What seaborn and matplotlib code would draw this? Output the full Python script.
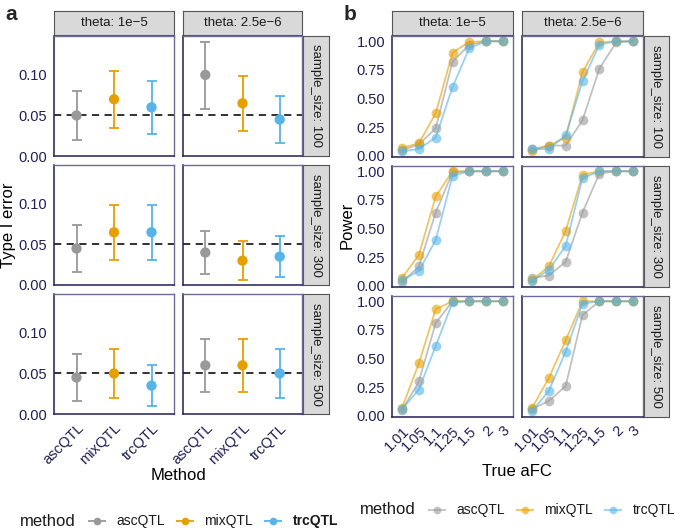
import numpy as np
import pandas as pd
import matplotlib
matplotlib.use("Agg")
import matplotlib.pyplot as plt
import seaborn as sns

sns.set_theme(style="white")
plt.rcParams['font.family'] = ['Liberation Sans', 'DejaVu Sans']

# ---------------- data ----------------
methods = ["ascQTL", "mixQTL", "trcQTL"]
thetas = ["theta: 1e\u22125", "theta: 2.5e\u22126"]
sample_sizes = ["sample_size: 100", "sample_size: 300", "sample_size: 500"]
afc_labels = ["1.01", "1.05", "1.1", "1.25", "1.5", "2", "3"]
colors = {"ascQTL": "#999999", "mixQTL": "#E69F00", "trcQTL": "#56B4E9"}

# Type I error: (sample_size idx, theta idx) -> values per method
t1_est = {
    (0, 0): [0.050, 0.070, 0.060], (0, 1): [0.100, 0.065, 0.045],
    (1, 0): [0.045, 0.065, 0.065], (1, 1): [0.040, 0.030, 0.035],
    (2, 0): [0.045, 0.050, 0.035], (2, 1): [0.060, 0.060, 0.050],
}
t1_low = {
    (0, 0): [0.020, 0.035, 0.027], (0, 1): [0.058, 0.031, 0.016],
    (1, 0): [0.016, 0.031, 0.031], (1, 1): [0.013, 0.006, 0.010],
    (2, 0): [0.016, 0.020, 0.010], (2, 1): [0.027, 0.027, 0.020],
}
t1_high = {
    (0, 0): [0.080, 0.105, 0.093], (0, 1): [0.140, 0.099, 0.074],
    (1, 0): [0.074, 0.099, 0.099], (1, 1): [0.067, 0.054, 0.060],
    (2, 0): [0.074, 0.080, 0.060], (2, 1): [0.093, 0.093, 0.080],
}

# Power: (sample_size idx, theta idx) -> {method: values over aFC}
power = {
    (0, 0): {"ascQTL": [0.05, 0.10, 0.24, 0.82, 0.97, 1.00, 1.00],
             "mixQTL": [0.07, 0.11, 0.37, 0.90, 0.995, 1.00, 1.00],
             "trcQTL": [0.04, 0.06, 0.16, 0.60, 0.94, 1.00, 1.00]},
    (0, 1): {"ascQTL": [0.06, 0.09, 0.09, 0.31, 0.76, 0.99, 1.00],
             "mixQTL": [0.04, 0.09, 0.16, 0.73, 0.99, 1.00, 1.00],
             "trcQTL": [0.06, 0.06, 0.18, 0.65, 0.97, 1.00, 1.00]},
    (1, 0): {"ascQTL": [0.03, 0.17, 0.64, 0.99, 1.00, 1.00, 1.00],
             "mixQTL": [0.07, 0.27, 0.78, 1.00, 1.00, 1.00, 1.00],
             "trcQTL": [0.05, 0.13, 0.40, 0.96, 1.00, 1.00, 1.00]},
    (1, 1): {"ascQTL": [0.07, 0.09, 0.21, 0.64, 0.98, 1.00, 1.00],
             "mixQTL": [0.05, 0.17, 0.48, 0.97, 1.00, 1.00, 1.00],
             "trcQTL": [0.04, 0.14, 0.35, 0.94, 1.00, 1.00, 1.00]},
    (2, 0): {"ascQTL": [0.05, 0.30, 0.81, 1.00, 1.00, 1.00, 1.00],
             "mixQTL": [0.07, 0.46, 0.93, 1.00, 1.00, 1.00, 1.00],
             "trcQTL": [0.06, 0.23, 0.61, 0.99, 1.00, 1.00, 1.00]},
    (2, 1): {"ascQTL": [0.06, 0.13, 0.26, 0.88, 1.00, 1.00, 1.00],
             "mixQTL": [0.07, 0.33, 0.66, 1.00, 1.00, 1.00, 1.00],
             "trcQTL": [0.04, 0.22, 0.56, 0.98, 1.00, 1.00, 1.00]},
}

# ---------------- layout ----------------
W, H = 675, 528
fig = plt.figure(figsize=(W / 100, H / 100), dpi=100)

navy = "#221e55"
border = "#6f6b99"
strip_fc = "#d9d9d9"
strip_ec = "#555555"


def px_axes(x0, y0, x1, y1):
    return fig.add_axes([x0 / W, 1 - y1 / H, (x1 - x0) / W, (y1 - y0) / H])


def style_panel(ax):
    for s in ["top", "right"]:
        ax.spines[s].set_color(border)
        ax.spines[s].set_linewidth(1.0)
    for s in ["left", "bottom"]:
        ax.spines[s].set_color(navy)
        ax.spines[s].set_linewidth(1.1)
    ax.tick_params(axis="both", colors=navy, labelcolor=navy, length=3,
                   width=0.8, labelsize=10.5, direction="out", pad=2)
    ax.grid(False)
    ax.set_facecolor("white")


def add_strip(x0, y0, x1, y1, text, rotation=0):
    sax = px_axes(x0, y0, x1, y1)
    sax.set_xticks([])
    sax.set_yticks([])
    sax.set_facecolor(strip_fc)
    for s in sax.spines.values():
        s.set_color(strip_ec)
        s.set_linewidth(0.8)
    sax.text(0.5, 0.5, text, ha="center", va="center", rotation=rotation,
             fontsize=9.5, color="#1a1a1a", transform=sax.transAxes)


left_cols = [(54, 174), (183, 302)]
left_rows = [(36, 156), (165, 285), (294, 414)]
right_cols = [(392, 513), (522, 643)]
right_rows = [(36, 157), (166, 287), (296, 417)]

# ---------- panel a ----------
for ci, (x0, x1) in enumerate(left_cols):
    add_strip(x0, 11, x1, 35, thetas[ci])
for ri, (y0, y1) in enumerate(left_rows):
    add_strip(303, y0, 329, y1, sample_sizes[ri], rotation=-90)
    for ci, (x0, x1) in enumerate(left_cols):
        ax = px_axes(x0, y0, x1, y1)
        df = pd.DataFrame({"method": methods,
                           "est": t1_est[(ri, ci)],
                           "low": t1_low[(ri, ci)],
                           "high": t1_high[(ri, ci)]})
        df["pos"] = np.arange(len(methods))
        ax.axhline(0.05, color="#222222", ls=(0, (4, 3)), lw=1.3, zorder=1)
        for _, r in df.iterrows():
            ax.errorbar(r["pos"], r["est"],
                        yerr=[[r["est"] - r["low"]], [r["high"] - r["est"]]],
                        fmt="none", ecolor=colors[r["method"]], elinewidth=1.3,
                        capsize=3.5, capthick=1.3, zorder=2)
        sns.scatterplot(data=df, x="pos", y="est", hue="method",
                        palette=colors, s=55, edgecolor="none", legend=False,
                        ax=ax, zorder=3)
        ax.set_xlim(-0.6, 2.6)
        ax.set_ylim(0, 0.148)
        ax.set_yticks([0.0, 0.05, 0.10])
        style_panel(ax)
        ax.set_xlabel("")
        ax.set_ylabel("")
        ax.set_xticks(df["pos"])
        if ri == 2:
            ax.set_xticklabels(methods, rotation=45, ha="right",
                               rotation_mode="anchor")
        else:
            ax.set_xticklabels([])
            ax.tick_params(axis="x", length=0)
        if ci == 0:
            ax.set_yticklabels(["0.00", "0.05", "0.10"])
        else:
            ax.set_yticklabels([])
            ax.tick_params(axis="y", length=0)

# ---------- panel b ----------
for ci, (x0, x1) in enumerate(right_cols):
    add_strip(x0, 11, x1, 35, thetas[ci])
for ri, (y0, y1) in enumerate(right_rows):
    add_strip(644, y0, 669, y1, sample_sizes[ri], rotation=-90)
    for ci, (x0, x1) in enumerate(right_cols):
        ax = px_axes(x0, y0, x1, y1)
        rows = []
        for m in methods:
            for k, v in enumerate(power[(ri, ci)][m]):
                rows.append({"method": m, "pos": k, "power": v})
        df = pd.DataFrame(rows)
        sns.lineplot(data=df, x="pos", y="power", hue="method",
                     palette=colors, marker="o", markersize=7,
                     markeredgecolor="none", linewidth=1.3, alpha=0.6,
                     legend=False, ax=ax)
        ax.set_xlim(-0.6, 6.6)
        ax.set_ylim(-0.01, 1.046)
        ax.set_yticks([0, 0.25, 0.5, 0.75, 1.0])
        style_panel(ax)
        ax.set_xlabel("")
        ax.set_ylabel("")
        ax.set_xticks(range(len(afc_labels)))
        if ri == 2:
            ax.set_xticklabels(afc_labels, rotation=45, ha="right",
                               rotation_mode="anchor")
        else:
            ax.set_xticklabels([])
            ax.tick_params(axis="x", length=0)
        if ci == 0:
            ax.set_yticklabels(["0.00", "0.25", "0.50", "0.75", "1.00"])
        else:
            ax.set_yticklabels([])
            ax.tick_params(axis="y", length=0)

# ---------- titles / labels ----------
fig.text(5 / W, 1 - 14 / H, "a", fontsize=15, fontweight="bold", va="center")
fig.text(344 / W, 1 - 14 / H, "b", fontsize=15, fontweight="bold", va="center")
fig.text(9 / W, 1 - 225 / H, "Type I error", rotation=90, fontsize=12,
         ha="center", va="center", color="black")
fig.text(347 / W, 1 - 225 / H, "Power", rotation=90, fontsize=12,
         ha="center", va="center", color="black")
fig.text(178 / W, 1 - 475 / H, "Method", fontsize=12, ha="center",
         va="center", color="black")
fig.text(517 / W, 1 - 472 / H, "True aFC", fontsize=12, ha="center",
         va="center", color="black")


# ---------- legends ----------
def draw_legend(x_title, y, marker_xs, text_xs, alpha, bold_last=False):
    fig.text(x_title / W, 1 - y / H, "method", fontsize=12, va="center",
             ha="left", color="#1a1a1a")
    for i, m in enumerate(methods):
        lax = px_axes(marker_xs[i] - 9, y - 5, marker_xs[i] + 9, y + 5)
        lax.axis("off")
        lax.plot([0, 1], [0.5, 0.5], color=colors[m], lw=1.3, alpha=alpha)
        lax.plot([0.5], [0.5], "o", color=colors[m], ms=5.5, alpha=alpha,
                 mec="none")
        lax.set_xlim(0, 1)
        lax.set_ylim(0, 1)
        fw = "bold" if (bold_last and i == 2) else "normal"
        fig.text(text_xs[i] / W, 1 - y / H, m, fontsize=10, va="center",
                 ha="left", color="#1a1a1a", fontweight=fw)


draw_legend(20, 521, [97, 185, 273], [116, 204, 293], 1.0, bold_last=True)
draw_legend(360, 510, [437, 525, 613], [456, 544, 633], 0.6)

fig.savefig("out.png", dpi=100)
